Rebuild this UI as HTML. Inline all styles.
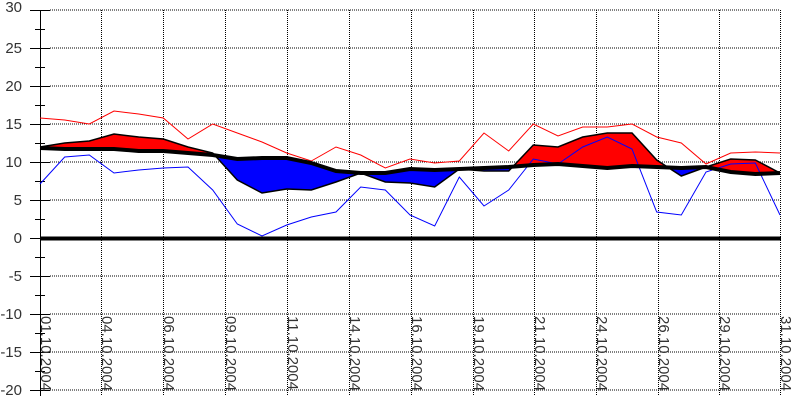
<!DOCTYPE html>
<html><head><meta charset="utf-8"><style>
html,body{margin:0;padding:0;background:#fff;}
svg{display:block;font-family:"Liberation Sans",sans-serif;}
</style></head><body>
<svg width="800" height="400" viewBox="0 0 800 400" xmlns="http://www.w3.org/2000/svg">
<defs>
<clipPath id="above"><polygon points="0,0 800,0 800,173 780,173 755.3,174 730.7,172 706,167 681.3,168 656.7,167 632,166 607.3,168 582.7,166 558,164 533.3,165 508.7,167 484,168 459.3,169 434.7,170 410,169 385.3,173 360.7,173 336,171 311.3,163 286.7,158 262,158 237.3,159 212.7,155 188,153 163.3,151 138.7,151 114,149 89.3,149 64.7,149 40,148 0,148"/></clipPath>
<clipPath id="below"><polygon points="0,400 800,400 800,173 780,173 755.3,174 730.7,172 706,167 681.3,168 656.7,167 632,166 607.3,168 582.7,166 558,164 533.3,165 508.7,167 484,168 459.3,169 434.7,170 410,169 385.3,173 360.7,173 336,171 311.3,163 286.7,158 262,158 237.3,159 212.7,155 188,153 163.3,151 138.7,151 114,149 89.3,149 64.7,149 40,148 0,148"/></clipPath>
</defs>
<g stroke="#000" stroke-width="1" stroke-dasharray="1,1">
<line x1="50" y1="10" x2="780" y2="10"/><line x1="50" y1="48" x2="780" y2="48"/><line x1="50" y1="86" x2="780" y2="86"/><line x1="50" y1="124" x2="780" y2="124"/><line x1="50" y1="162" x2="780" y2="162"/><line x1="50" y1="200" x2="780" y2="200"/><line x1="50" y1="276" x2="780" y2="276"/><line x1="50" y1="314" x2="780" y2="314"/><line x1="50" y1="352" x2="780" y2="352"/><line x1="50" y1="390" x2="780" y2="390"/>
<line x1="101.5" y1="10" x2="101.5" y2="396"/><line x1="163.5" y1="10" x2="163.5" y2="396"/><line x1="225.5" y1="10" x2="225.5" y2="396"/><line x1="287.5" y1="10" x2="287.5" y2="396"/><line x1="349.5" y1="10" x2="349.5" y2="396"/><line x1="411.5" y1="10" x2="411.5" y2="396"/><line x1="473.5" y1="10" x2="473.5" y2="396"/><line x1="534.5" y1="10" x2="534.5" y2="396"/><line x1="596.5" y1="10" x2="596.5" y2="396"/><line x1="658.5" y1="10" x2="658.5" y2="396"/><line x1="719.5" y1="10" x2="719.5" y2="396"/><line x1="780.5" y1="10" x2="780.5" y2="396"/>
</g>
<g stroke="#000" stroke-width="1">
<line x1="40.5" y1="10" x2="40.5" y2="396"/>
<line x1="30" y1="10.5" x2="50" y2="10.5"/><line x1="30" y1="48.5" x2="50" y2="48.5"/><line x1="30" y1="86.5" x2="50" y2="86.5"/><line x1="30" y1="124.5" x2="50" y2="124.5"/><line x1="30" y1="162.5" x2="50" y2="162.5"/><line x1="30" y1="200.5" x2="50" y2="200.5"/><line x1="30" y1="238.5" x2="50" y2="238.5"/><line x1="30" y1="276.5" x2="50" y2="276.5"/><line x1="30" y1="314.5" x2="50" y2="314.5"/><line x1="30" y1="352.5" x2="50" y2="352.5"/><line x1="30" y1="390.5" x2="50" y2="390.5"/>
<line x1="35" y1="29.5" x2="45" y2="29.5"/><line x1="35" y1="67.5" x2="45" y2="67.5"/><line x1="35" y1="105.5" x2="45" y2="105.5"/><line x1="35" y1="143.5" x2="45" y2="143.5"/><line x1="35" y1="181.5" x2="45" y2="181.5"/><line x1="35" y1="219.5" x2="45" y2="219.5"/><line x1="35" y1="257.5" x2="45" y2="257.5"/><line x1="35" y1="295.5" x2="45" y2="295.5"/><line x1="35" y1="333.5" x2="45" y2="333.5"/><line x1="35" y1="371.5" x2="45" y2="371.5"/>
</g>
<g fill="#333" font-size="15" text-anchor="end">
<text x="22" y="12">30</text><text x="22" y="53">25</text><text x="22" y="91">20</text><text x="22" y="129">15</text><text x="22" y="167">10</text><text x="22" y="205">5</text><text x="22" y="243">0</text><text x="22" y="281">-5</text><text x="22" y="319">-10</text><text x="22" y="357">-15</text><text x="22" y="395">-20</text>
</g>
<polygon clip-path="url(#above)" fill="#f00" points="40,147 64.7,143 89.3,141 114,134 138.7,137 163.3,139 188,147 212.7,153 237.3,180 262,193 286.7,189 311.3,190 336,182 360.7,173 385.3,182 410,183 434.7,187 459.3,169 484,171 508.7,171 533.3,145 558,147 582.7,137 607.3,133 632,133 656.7,160 681.3,176 706,167 730.7,159 755.3,160 780,173 780,173 755.3,174 730.7,172 706,167 681.3,168 656.7,167 632,166 607.3,168 582.7,166 558,164 533.3,165 508.7,167 484,168 459.3,169 434.7,170 410,169 385.3,173 360.7,173 336,171 311.3,163 286.7,158 262,158 237.3,159 212.7,155 188,153 163.3,151 138.7,151 114,149 89.3,149 64.7,149 40,148"/>
<polygon clip-path="url(#below)" fill="#00f" points="40,147 64.7,143 89.3,141 114,134 138.7,137 163.3,139 188,147 212.7,153 237.3,180 262,193 286.7,189 311.3,190 336,182 360.7,173 385.3,182 410,183 434.7,187 459.3,169 484,171 508.7,171 533.3,145 558,147 582.7,137 607.3,133 632,133 656.7,160 681.3,176 706,167 730.7,159 755.3,160 780,173 780,173 755.3,174 730.7,172 706,167 681.3,168 656.7,167 632,166 607.3,168 582.7,166 558,164 533.3,165 508.7,167 484,168 459.3,169 434.7,170 410,169 385.3,173 360.7,173 336,171 311.3,163 286.7,158 262,158 237.3,159 212.7,155 188,153 163.3,151 138.7,151 114,149 89.3,149 64.7,149 40,148"/>
<polyline fill="none" stroke="#000" stroke-width="1.5" points="40,147 64.7,143 89.3,141 114,134 138.7,137 163.3,139 188,147 212.7,153 237.3,180 262,193 286.7,189 311.3,190 336,182 360.7,173 385.3,182 410,183 434.7,187 459.3,169 484,171 508.7,171 533.3,145 558,147 582.7,137 607.3,133 632,133 656.7,160 681.3,176 706,167 730.7,159 755.3,160 780,173"/>
<polyline fill="none" stroke="#f00" stroke-width="1" points="40,118 64.7,120 89.3,124 114,111 138.7,114 163.3,118 188,139 212.7,124 237.3,133 262,142 286.7,153 311.3,161 336,147 360.7,155 385.3,168 410,159 434.7,163 459.3,161 484,133 508.7,151 533.3,124 558,136 582.7,127 607.3,127 632,124 656.7,137 681.3,143 706,164 730.7,153 755.3,152 780,153"/>
<polyline fill="none" stroke="#00f" stroke-width="1" points="40,184 64.7,157 89.3,155 114,173 138.7,170 163.3,168 188,167 212.7,190 237.3,224 262,236 286.7,225 311.3,217 336,212 360.7,187 385.3,190 410,215 434.7,226 459.3,177 484,206 508.7,190 533.3,159 558,164 582.7,147 607.3,137 632,149 656.7,212 681.3,215 706,172 730.7,164 755.3,163 780,215"/>
<polyline fill="none" stroke="#000" stroke-width="4" points="40,148 64.7,149 89.3,149 114,149 138.7,151 163.3,151 188,153 212.7,155 237.3,159 262,158 286.7,158 311.3,163 336,171 360.7,173 385.3,173 410,169 434.7,170 459.3,169 484,168 508.7,167 533.3,165 558,164 582.7,166 607.3,168 632,166 656.7,167 681.3,168 706,167 730.7,172 755.3,174 780,173"/>
<line x1="40" y1="238.5" x2="781" y2="238.5" stroke="#000" stroke-width="4"/>
<g fill="#333" font-size="15">
<text transform="translate(41,316) rotate(90)">01.10.2004</text>
<text transform="translate(102,316) rotate(90)">04.10.2004</text>
<text transform="translate(164,316) rotate(90)">06.10.2004</text>
<text transform="translate(226,316) rotate(90)">09.10.2004</text>
<text transform="translate(288,316) rotate(90)">11.10.2004</text>
<text transform="translate(350,316) rotate(90)">14.10.2004</text>
<text transform="translate(412,316) rotate(90)">16.10.2004</text>
<text transform="translate(474,316) rotate(90)">19.10.2004</text>
<text transform="translate(535,316) rotate(90)">21.10.2004</text>
<text transform="translate(597,316) rotate(90)">24.10.2004</text>
<text transform="translate(659,316) rotate(90)">26.10.2004</text>
<text transform="translate(720,316) rotate(90)">29.10.2004</text>
<text transform="translate(781,316) rotate(90)">31.10.2004</text>
</g>
</svg>
</body></html>
